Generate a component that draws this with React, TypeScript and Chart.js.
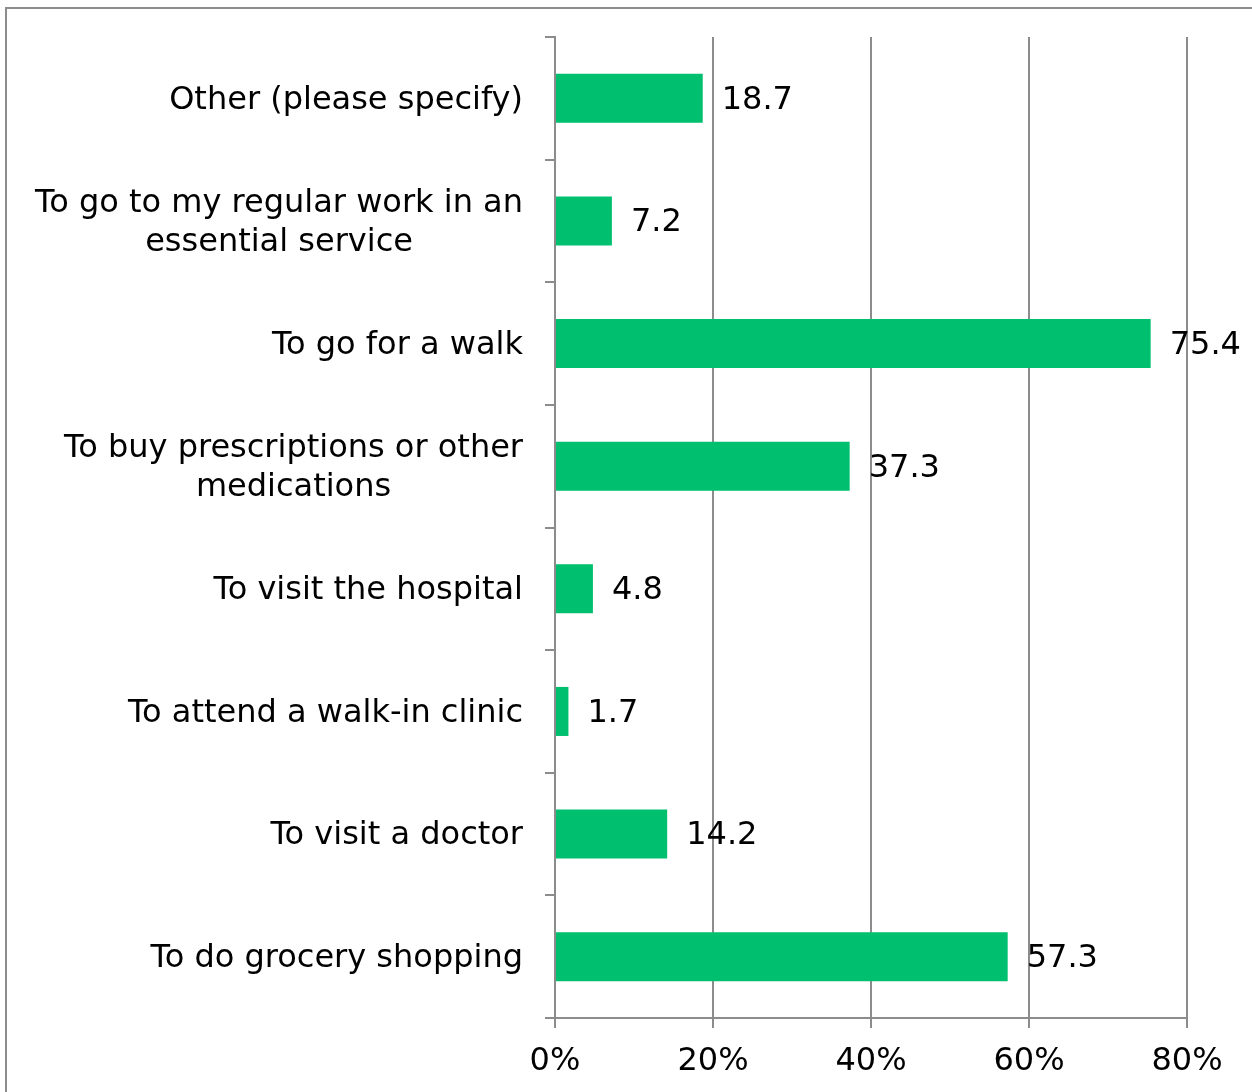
import React, { useEffect, useRef } from "react";
import { Chart, registerables } from "chart.js";

Chart.register(...registerables);

const categories: string[][] = [
  ["Other (please specify)"],
  ["To go to my regular work in an", "essential service"],
  ["To go for a walk"],
  ["To buy prescriptions or other", "medications"],
  ["To visit the hospital"],
  ["To attend a walk-in clinic"],
  ["To visit a doctor"],
  ["To do grocery shopping"],
];
const values: number[] = [18.7, 7.2, 75.4, 37.3, 4.8, 1.7, 14.2, 57.3];
const xTicks: number[] = [0, 20, 40, 60, 80];

const FONT = "DejaVu Sans";
const FONT_SIZE = 32;
const LINE_H = 39;
const TEXT_DY = 2;
const GRAY = "#8c8c8c";
const BAR = "#00bf6f";

const labelsPlugin = {
  id: "customLabels",
  afterDraw(chart: any) {
    const ctx = chart.ctx;
    const yScale = chart.scales.y;
    const xScale = chart.scales.x;
    ctx.save();
    ctx.font = `${FONT_SIZE}px "${FONT}"`;
    ctx.fillStyle = "#000";
    ctx.textBaseline = "middle";
    // category labels: block right-aligned, lines centered within block
    const rightEdge = yScale.right - 10 - 22;
    categories.forEach((lines, i) => {
      const cy = yScale.getPixelForValue(i) + TEXT_DY;
      const widest = Math.max(...lines.map((l) => ctx.measureText(l).width));
      const cx = rightEdge - widest / 2;
      ctx.textAlign = "center";
      lines.forEach((line, j) => {
        const y = cy + (j - (lines.length - 1) / 2) * LINE_H;
        ctx.fillText(line, cx, y);
      });
    });
    // value labels
    ctx.textAlign = "left";
    values.forEach((v, i) => {
      const x = xScale.getPixelForValue(v) + 19;
      const y = yScale.getPixelForValue(i) + TEXT_DY;
      ctx.fillText(v.toFixed(1), x, y);
    });
    ctx.restore();
  },
};

export default function App() {
  const canvasRef = useRef<HTMLCanvasElement | null>(null);

  useEffect(() => {
    if (!canvasRef.current) return;
    const chart = new Chart(canvasRef.current, {
      type: "bar",
      data: {
        labels: categories.map((c) => c.join(" ")),
        datasets: [
          {
            data: values,
            backgroundColor: BAR,
            borderWidth: 0,
            barPercentage: 0.4,
            categoryPercentage: 1,
          },
        ],
      },
      options: {
        indexAxis: "y",
        animation: false,
        responsive: false,
        maintainAspectRatio: false,
        layout: { padding: { left: 0, right: 65, top: 37, bottom: 0 } },
        plugins: {
          legend: { display: false },
          tooltip: { enabled: false },
        },
        scales: {
          x: {
            type: "linear",
            min: 0,
            max: 80,
            afterBuildTicks: (scale: any) => {
              scale.ticks = xTicks.map((v) => ({ value: v }));
            },
            afterFit: (scale: any) => {
              scale.height = 74;
            },
            grid: {
              color: GRAY,
              lineWidth: 2,
              drawTicks: true,
              tickLength: 10,
              tickColor: GRAY,
            },
            border: { display: true, color: GRAY, width: 2 },
            ticks: {
              padding: 14,
              color: "#000",
              font: { family: FONT, size: FONT_SIZE },
              callback: (v: any) => `${v}%`,
            },
          },
          y: {
            type: "category",
            afterFit: (scale: any) => {
              scale.width = 555;
            },
            grid: {
              offset: true,
              drawOnChartArea: false,
              drawTicks: true,
              tickLength: 10,
              color: GRAY,
              tickColor: GRAY,
              lineWidth: 2,
            },
            border: { display: true, color: GRAY, width: 2 },
            ticks: { display: false },
          },
        },
      },
      plugins: [labelsPlugin],
    });
    return () => chart.destroy();
  }, []);

  return (
    <div
      style={{
        position: "fixed",
        left: 0,
        top: 0,
        width: 1252,
        height: 1092,
        overflow: "hidden",
        background: "#fff",
      }}
    >
      <canvas
        ref={canvasRef}
        width={1252}
        height={1092}
        style={{ position: "absolute", left: 0, top: 0, width: 1252, height: 1092 }}
      />
      <div
        style={{
          position: "absolute",
          left: 5,
          top: 7,
          width: 2000,
          height: 2000,
          border: `2px solid ${GRAY}`,
          pointerEvents: "none",
        }}
      />
    </div>
  );
}
